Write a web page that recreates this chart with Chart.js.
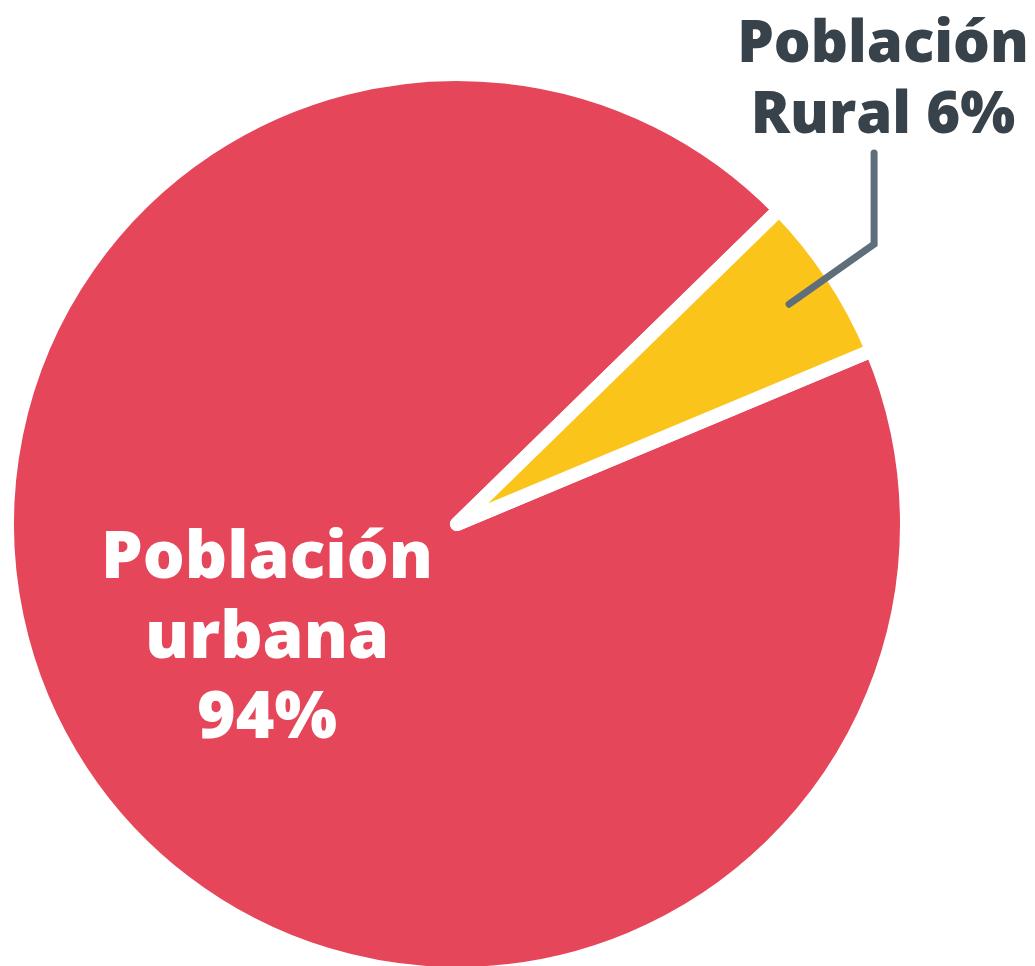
<!DOCTYPE html>
<html>
<head>
<meta charset="utf-8">
<script src="https://cdn.jsdelivr.net/npm/chart.js@4"></script>
<style>
  html, body { margin: 0; padding: 0; background: #ffffff; }
  #wrap { width: 1035px; height: 966px; position: relative; }
</style>
</head>
<body>
<div id="wrap"><canvas id="chart"></canvas></div>
<script>
// data
const categories = ['Población urbana', 'Población Rural'];
const shares = [94, 6];
const sliceColors = ['#E5465A', '#FBC41A'];
const labelLines = [
  ['Población', 'urbana', '94%'],
  ['Población', 'Rural 6%']
];

// draws the two text blocks and the leader line to the small slice
const labelPlugin = {
  id: 'pieLabels',
  afterDatasetsDraw(chart) {
    const ctx = chart.ctx;
    const arcs = chart.getDatasetMeta(0).data;
    const urban = arcs[0];
    const rural = arcs[1];

    ctx.save();
    ctx.textAlign = 'center';
    ctx.textBaseline = 'alphabetic';

    // big label inside the red slice
    ctx.fillStyle = '#ffffff';
    ctx.font = '800 66px "Open Sans"';
    const ux = urban.x - 190;
    labelLines[0].forEach((t, i) => ctx.fillText(t, ux, urban.y + 54 + i * 80));

    // label for the rural slice, top right
    ctx.fillStyle = '#37424A';
    ctx.font = '800 58px "Open Sans"';
    const rx = urban.x + 426;
    labelLines[1].forEach((t, i) => ctx.fillText(t, rx, 62 + i * 71));

    // leader line: from the middle of the yellow slice up to the label
    const mid = (rural.startAngle + rural.endAngle) / 2;
    const r = rural.outerRadius * 0.885;
    const ex = rural.x + Math.cos(mid) * r;
    const ey = rural.y + Math.sin(mid) * r;
    ctx.strokeStyle = '#5F6E7B';
    ctx.lineWidth = 7;
    ctx.lineCap = 'round';
    ctx.lineJoin = 'miter';
    ctx.beginPath();
    ctx.moveTo(ex, ey);
    ctx.lineTo(ex + 85, ey - 60);
    ctx.lineTo(ex + 85, 153);
    ctx.stroke();
    ctx.restore();
  }
};

new Chart(document.getElementById('chart'), {
  type: 'pie',
  data: {
    labels: categories,
    datasets: [{
      data: shares,
      backgroundColor: sliceColors,
      borderColor: '#ffffff',
      borderWidth: 14,
      borderJoinStyle: 'round',
      hoverOffset: 0,
      clip: false
    }]
  },
  options: {
    responsive: true,
    maintainAspectRatio: false,
    animation: false,
    rotation: 67.3,
    radius: 450,
    layout: { padding: { left: 0, right: 121, top: 82, bottom: 0 } },
    plugins: {
      legend: { display: false },
      tooltip: { enabled: false }
    }
  },
  plugins: [labelPlugin]
});
</script>
</body>
</html>
